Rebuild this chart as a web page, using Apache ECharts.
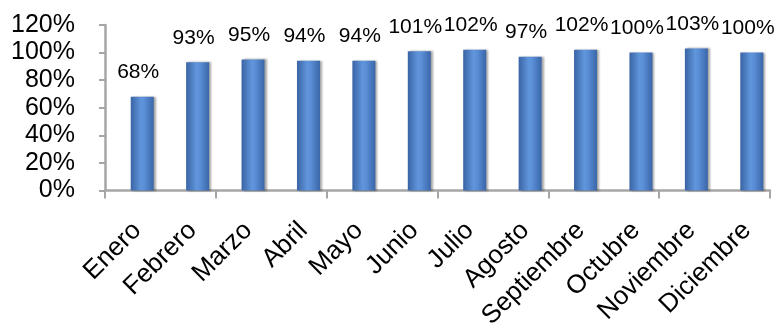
<!DOCTYPE html>
<html>
<head>
<meta charset="utf-8">
<script src="https://cdn.jsdelivr.net/npm/echarts@6/dist/echarts.min.js"></script>
<style>html,body{margin:0;padding:0;background:#fff}#c{width:780px;height:324px}</style>
</head>
<body>
<div id="c"></div>
<script>
const categories = ['Enero','Febrero','Marzo','Abril','Mayo','Junio','Julio','Agosto','Septiembre','Octubre','Noviembre','Diciembre'];
const values = [68, 93, 95, 94, 94, 101, 102, 97, 102, 100, 103, 100];
const yMin = 0, yMax = 120, yStep = 20;

const chart = echarts.init(document.getElementById('c'), null, {renderer: 'canvas'});
const font = '"Liberation Sans", Arial, sans-serif';
const axisGray = '#a6a6a6';
const g = {top: 25, bottom: 133.5, containLabel: false, outerBoundsMode: 'none'};
chart.setOption({
  animation: false,
  backgroundColor: '#ffffff',
  grid: [
    Object.assign({left: 105, right: 10}, g),
    Object.assign({left: 114.5, right: 0.5}, g),
    Object.assign({left: 109.5, right: 5.5}, g)
  ],
  xAxis: [
    {
      type: 'category', gridIndex: 0, data: categories, boundaryGap: true,
      axisLine: {show: true, lineStyle: {color: axisGray, width: 2.5}},
      axisTick: {show: true, length: 8, lineStyle: {color: axisGray, width: 2}, alignWithLabel: false},
      axisLabel: {show: false}
    },
    {
      type: 'category', gridIndex: 1, data: categories, show: false
    },
    {
      type: 'category', gridIndex: 2, data: categories, boundaryGap: true,
      axisLine: {show: false}, axisTick: {show: false},
      axisLabel: {rotate: 45, margin: 36, fontSize: 26, color: '#000', fontFamily: font, interval: 0, hideOverlap: false}
    }
  ],
  yAxis: [
    {
      type: 'value', gridIndex: 0, min: yMin, max: yMax, interval: yStep,
      axisLine: {show: true, lineStyle: {color: axisGray, width: 2.5}},
      axisTick: {show: true, length: 6, lineStyle: {color: axisGray, width: 2}},
      splitLine: {show: false},
      axisLabel: {margin: 30, fontSize: 25, color: '#000', fontFamily: font, formatter: v => v + '%'}
    },
    {
      type: 'value', gridIndex: 1, min: yMin, max: yMax, interval: yStep, show: false
    },
    {
      type: 'value', gridIndex: 2, min: yMin, max: yMax, interval: yStep, show: false
    }
  ],
  series: [{
    type: 'bar',
    xAxisIndex: 1, yAxisIndex: 1,
    data: values,
    barWidth: 23,
    itemStyle: {
      color: new echarts.graphic.LinearGradient(0, 0, 1, 0, [
        {offset: 0, color: '#3a64a4'},
        {offset: 0.45, color: '#6096dc'},
        {offset: 0.6, color: '#5a8ed6'},
        {offset: 1, color: '#3a66a8'}
      ]),
      shadowColor: 'rgba(0,0,0,0.35)', shadowBlur: 2, shadowOffsetX: 2, shadowOffsetY: 0
    },
    label: {
      show: true, position: 'top', distance: 14, offset: [-4, 0],
      fontSize: 21, color: '#000', fontFamily: font,
      formatter: p => p.value + '%'
    }
  }]
});
</script>
</body>
</html>
